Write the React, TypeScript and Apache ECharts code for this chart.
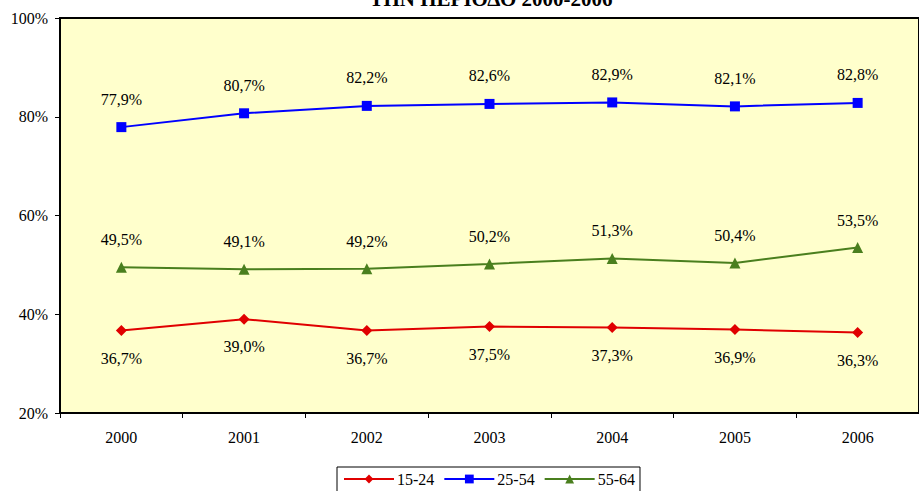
import React, { useEffect, useRef } from "react";
import * as echarts from "echarts";

const years = ["2000", "2001", "2002", "2003", "2004", "2005", "2006"];
const age1524 = [36.7, 39.0, 36.7, 37.5, 37.3, 36.9, 36.3];
const age2554 = [77.9, 80.7, 82.2, 82.6, 82.9, 82.1, 82.8];
const age5564 = [49.5, 49.1, 49.2, 50.2, 51.3, 50.4, 53.5];
const titleText = "ΤΗΝ ΠΕΡΙΟΔΟ 2000-2006";

const FONT = "Liberation Serif, Times New Roman, serif";

const fmt = (v: number) => v.toFixed(1).replace(".", ",") + "%";

export default function App() {
  const ref = useRef<HTMLDivElement>(null);
  useEffect(() => {
    if (!ref.current) return;
    const chart = echarts.init(ref.current, null, { renderer: "svg" });
    const labelBase = {
      show: true,
      fontFamily: FONT,
      fontSize: 16,
      color: "#000",
      formatter: (p: any) => fmt(p.value),
    };
    chart.setOption({
      animation: false,
      backgroundColor: "#fff",
      textStyle: { fontFamily: FONT },
      graphic: [
        {
          type: "text",
          x: 491,
          y: -1,
          z: 100,
          style: {
            text: titleText,
            fontFamily: FONT,
            fontWeight: "bold",
            fontSize: 21,
            fill: "#000",
            align: "center",
            verticalAlign: "middle",
          },
        },
      ],
      grid: {
        left: 60,
        top: 18,
        height: 395,
        width: 865,
        show: true,
        backgroundColor: "#FFFFCC",
        borderColor: "#000",
        borderWidth: 2,
      },
      legend: {
        left: 337,
        top: 467,
        padding: [4, 5, 8, 6],
        borderColor: "#000",
        borderWidth: 1,
        itemWidth: 50,
        itemHeight: 11,
        itemGap: 9,
        textStyle: { fontFamily: FONT, fontSize: 16, color: "#000", padding: [0, 0, 0, -2] },
        data: ["15-24", "25-54", "55-64"],
      },
      xAxis: {
        type: "category",
        data: years,
        boundaryGap: true,
        axisLine: { lineStyle: { color: "#000", width: 2 } },
        axisTick: { show: true, interval: 0, length: 5, lineStyle: { color: "#000", width: 1 } },
        axisLabel: { fontFamily: FONT, fontSize: 16, color: "#000", margin: 16 },
      },
      yAxis: {
        type: "value",
        min: 20,
        max: 100,
        interval: 20,
        axisLine: { show: true, lineStyle: { color: "#000", width: 2 } },
        axisTick: { show: true, length: 5, lineStyle: { color: "#000", width: 1 } },
        splitLine: { show: false },
        axisLabel: {
          fontFamily: FONT,
          fontSize: 16,
          color: "#000",
          margin: 12,
          formatter: "{value}%",
        },
      },
      series: [
        {
          name: "15-24",
          type: "line",
          data: age1524,
          symbol: "diamond",
          symbolSize: 11,
          color: "#E00000",
          lineStyle: { color: "#E00000", width: 2 },
          itemStyle: { color: "#E00000" },
          label: { ...labelBase, position: "bottom", distance: 14 },
        },
        {
          name: "25-54",
          type: "line",
          data: age2554,
          symbol: "rect",
          symbolSize: 10,
          color: "#0000FF",
          lineStyle: { color: "#0000FF", width: 2 },
          itemStyle: { color: "#0000FF" },
          label: { ...labelBase, position: "top", distance: 15 },
        },
        {
          name: "55-64",
          type: "line",
          data: age5564,
          symbol: "triangle",
          symbolSize: 11,
          color: "#4A7F1E",
          lineStyle: { color: "#4A7F1E", width: 2 },
          itemStyle: { color: "#4A7F1E" },
          label: { ...labelBase, position: "top", distance: 14 },
        },
      ],
    });
    return () => chart.dispose();
  }, []);
  return (
    <div
      ref={ref}
      style={{ position: "absolute", left: 0, top: 0, width: 919, height: 491, overflow: "hidden" }}
    />
  );
}
